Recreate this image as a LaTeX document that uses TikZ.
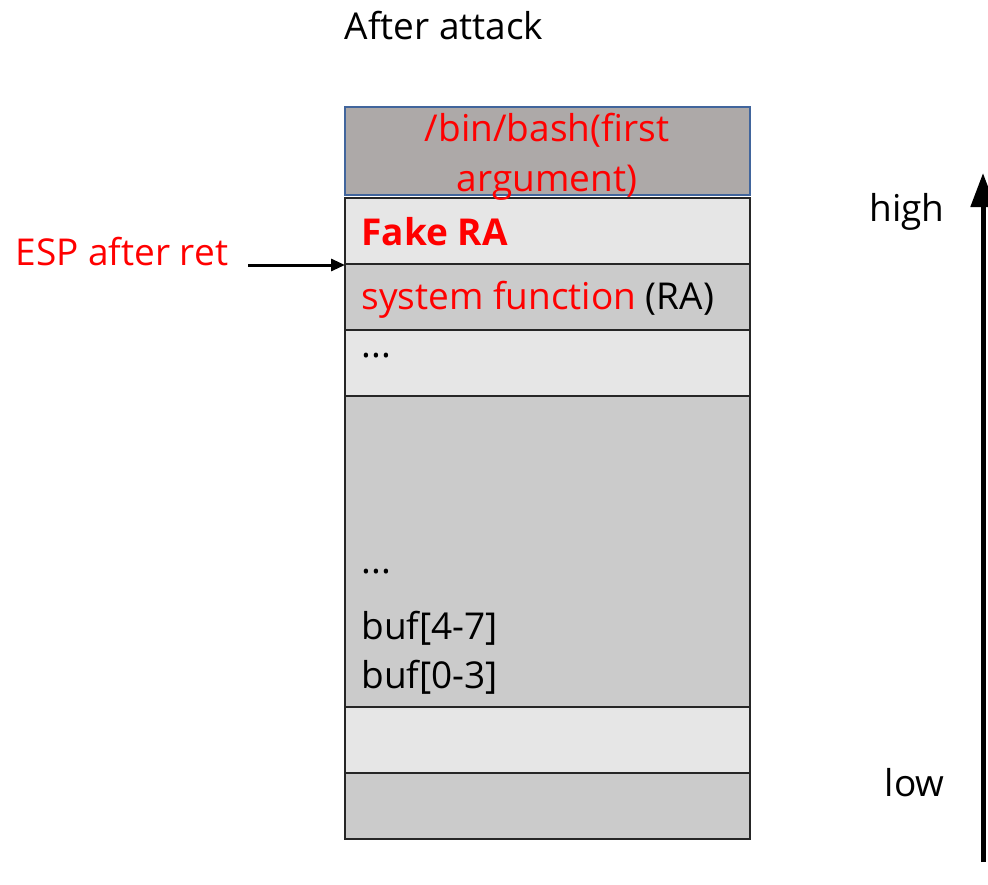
\documentclass[tikz,border=0pt]{standalone}
\usepackage{fontspec}
\setmainfont{Open Sans}
\usetikzlibrary{arrows.meta}
\definecolor{slotdark}{HTML}{CBCBCB}
\definecolor{slotlight}{HTML}{E6E6E6}
\definecolor{argfill}{HTML}{ADA9A8}
\definecolor{argedge}{HTML}{41659C}
\definecolor{hot}{HTML}{FF0000}
\tikzset{
  slot/.style={draw=black!85, line width=1.5pt},
  big/.style={font=\fontsize{37}{44}\selectfont},
}
\begin{document}
\begin{tikzpicture}[x=1pt,y=-1pt]
\useasboundingbox (0,0) rectangle (988,884);
% stack slots, top to bottom
\filldraw[fill=argfill, draw=argedge, line width=1.2pt] (345,107) rectangle (750,195);
\filldraw[slot, fill=slotlight] (345,198) rectangle (750,264);
\filldraw[slot, fill=slotdark]  (345,264) rectangle (750,330);
\filldraw[slot, fill=slotlight] (345,330) rectangle (750,396);
\filldraw[slot, fill=slotdark]  (345,396) rectangle (750,707);
\filldraw[slot, fill=slotlight] (345,707) rectangle (750,773);
\filldraw[slot, fill=slotdark]  (345,773) rectangle (750,839);
% slot contents
\node[text=hot, align=center, inner sep=0pt, font=\fontsize{37}{50}\selectfont] (arg) at (547,157)
  {/bin/bash(first\\argument)};
\node[text=hot, anchor=west, font=\fontsize{37}{44}\selectfont\bfseries] (fra) at (358,232) {Fake RA};
\node[big, anchor=west] (sys) at (358,300) {\textcolor{hot}{system function} (RA)};
\node[big, anchor=west] (dots1) at (358,356) {...};
\node[big, anchor=west] (dots2) at (358,572) {...};
\node[big, anchor=west] (b47) at (358,628) {buf[4-7]};
\node[big, anchor=west] (b03) at (358,677) {buf[0-3]};
% labels
\node[big] (title) at (444,26) {After attack};
\node[big, text=hot, anchor=west] (esp) at (12,252) {ESP after ret};
\coordinate (espfrom) at (248,265);
\coordinate (espto) at (345,265);
\draw[line width=3pt, -{Triangle[length=14pt,width=12pt]}] (espfrom) -- (espto);
\node[big, anchor=east] (high) at (948,212) {high};
\node[big, anchor=east] (low) at (948,783) {low};
% growth direction arrow
\coordinate (gbot) at (983,862);
\coordinate (gtop) at (983,173);
\draw[line width=5pt, -{Triangle[length=34pt,width=24pt]}] (gbot) -- (gtop);
\end{tikzpicture}
\end{document}
